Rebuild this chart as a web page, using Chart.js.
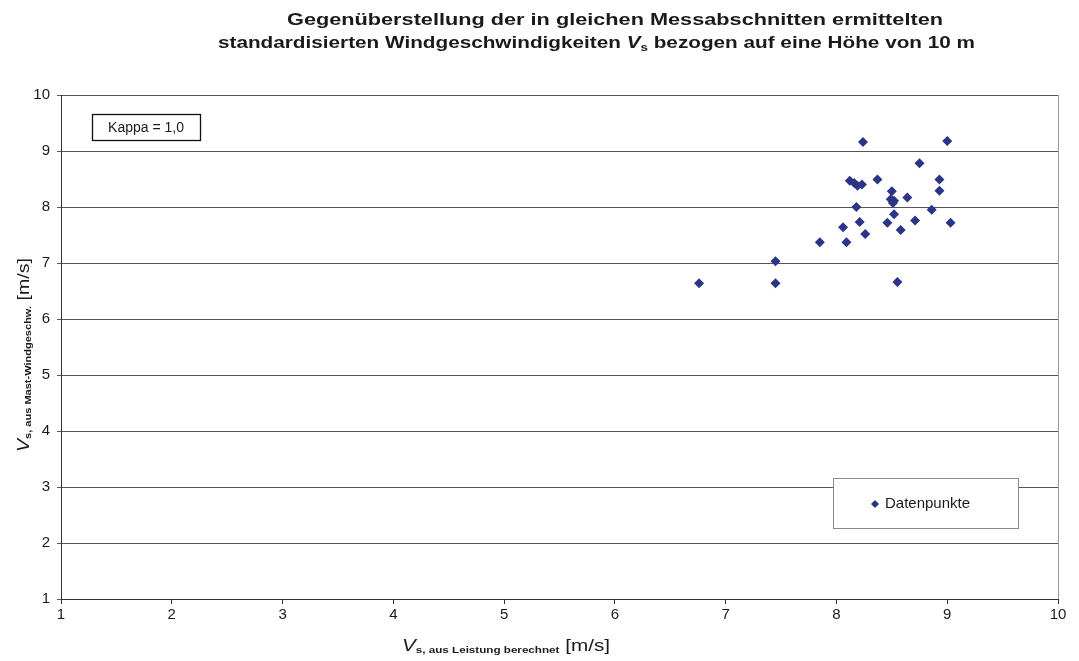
<!DOCTYPE html>
<html>
<head>
<meta charset="utf-8">
<script src="https://cdn.jsdelivr.net/npm/chart.js@4/dist/chart.umd.min.js"></script>
<style>
  html, body { margin: 0; padding: 0; background: #fff; }
  #chart { display: block; }
</style>
</head>
<body>
<canvas id="chart" width="1079" height="661"></canvas>
<script>
// values (x = from power, y = from mast wind speed)
var xValues = [8.24, 9.00, 8.75, 8.12, 8.16, 8.19, 8.23, 8.37, 8.93, 8.93, 8.50, 8.49, 8.52, 8.51, 8.64, 8.18,
               8.86, 8.52, 8.21, 8.46, 8.71, 9.03, 8.06, 8.58, 8.26, 7.85, 8.09, 7.45, 6.76, 7.45, 8.55];
var yValues = [9.16, 9.18, 8.78, 8.47, 8.43, 8.38, 8.40, 8.49, 8.49, 8.29, 8.28, 8.14, 8.11, 8.07, 8.17, 8.00,
               7.95, 7.87, 7.73, 7.72, 7.76, 7.72, 7.64, 7.59, 7.52, 7.37, 7.37, 7.03, 6.64, 6.64, 6.66];
var tickValues = [1, 2, 3, 4, 5, 6, 7, 8, 9, 10];
var seriesName = 'Datenpunkte';
var kappaText = 'Kappa = 1,0';
var titleLine1 = 'Gegenüberstellung der in gleichen Messabschnitten ermittelten';
var titleLine2a = 'standardisierten Windgeschwindigkeiten ';
var titleLine2b = ' bezogen auf eine Höhe von 10 m';
var xLabelSub = 's, aus Leistung berechnet';
var yLabelSub = 's, aus Mast-Windgeschw.';
var unitText = ' [m/s]';

var FONT = "'Liberation Sans', Arial, sans-serif";
var pointColor = '#2b3486';

// draw a row of text pieces, squeezed/stretched to a given width
function drawPieces(ctx, pieces, x, y, width) {
  var natural = 0;
  pieces.forEach(p => { ctx.font = p.font; natural += ctx.measureText(p.text).width; });
  var k = width ? width / natural : 1;
  ctx.save();
  ctx.translate(x, y);
  ctx.scale(k, 1);
  ctx.textBaseline = 'alphabetic';
  ctx.textAlign = 'left';
  var cx = 0;
  pieces.forEach(p => {
    ctx.font = p.font;
    ctx.fillText(p.text, cx, p.dy || 0);
    cx += ctx.measureText(p.text).width;
  });
  ctx.restore();
}

var extras = {
  id: 'extras',
  afterDraw(chart) {
    var ctx = chart.ctx;
    var area = chart.chartArea;
    ctx.save();
    ctx.fillStyle = '#1a1a1a';

    // title
    drawPieces(ctx, [{text: titleLine1, font: 'bold 17px ' + FONT}], 287, 25, 656);
    drawPieces(ctx, [
      {text: titleLine2a, font: 'bold 17px ' + FONT},
      {text: 'V', font: 'italic bold 17px ' + FONT},
      {text: 's', font: 'bold 11px ' + FONT, dy: 3},
      {text: titleLine2b, font: 'bold 17px ' + FONT}
    ], 218, 48, 757);

    // x axis title
    drawPieces(ctx, [
      {text: 'V', font: 'italic 16px ' + FONT},
      {text: xLabelSub, font: 'bold 9px ' + FONT, dy: 2},
      {text: unitText, font: '16px ' + FONT}
    ], 402, 651, 208);

    // y axis title
    ctx.save();
    ctx.translate(29, 452);
    ctx.rotate(-Math.PI / 2);
    drawPieces(ctx, [
      {text: 'V', font: 'italic 16px ' + FONT},
      {text: yLabelSub, font: 'bold 9px ' + FONT, dy: 2},
      {text: unitText, font: '16px ' + FONT}
    ], 0, 0, 194);
    ctx.restore();

    // right border of the plot area
    ctx.strokeStyle = '#999';
    ctx.lineWidth = 1;
    ctx.beginPath();
    ctx.moveTo(area.right + 0.5, area.top);
    ctx.lineTo(area.right + 0.5, area.bottom);
    ctx.stroke();

    // Kappa box
    ctx.fillStyle = '#fff';
    ctx.fillRect(92, 114, 108, 26);
    ctx.strokeStyle = '#111';
    ctx.lineWidth = 1.3;
    ctx.strokeRect(92.5, 114.5, 108, 26);
    ctx.fillStyle = '#1a1a1a';
    ctx.font = '14px ' + FONT;
    ctx.textAlign = 'center';
    ctx.textBaseline = 'middle';
    ctx.fillText(kappaText, 146, 128);

    // legend box
    ctx.fillStyle = '#fff';
    ctx.fillRect(833, 478, 185, 50);
    ctx.strokeStyle = '#8a8a8a';
    ctx.lineWidth = 1;
    ctx.strokeRect(833.5, 478.5, 185, 50);
    ctx.fillStyle = pointColor;
    ctx.beginPath();
    ctx.moveTo(875, 500);
    ctx.lineTo(879, 504);
    ctx.lineTo(875, 508);
    ctx.lineTo(871, 504);
    ctx.closePath();
    ctx.fill();
    ctx.fillStyle = '#1a1a1a';
    ctx.font = '15px ' + FONT;
    ctx.textAlign = 'left';
    ctx.fillText(seriesName, 885, 504);

    ctx.restore();
  }
};

var points = xValues.map((x, i) => ({x: x, y: yValues[i]}));

new Chart(document.getElementById('chart').getContext('2d'), {
  type: 'scatter',
  data: {
    datasets: [{
      label: seriesName,
      data: points,
      pointStyle: 'rectRot',
      pointRadius: 5,
      backgroundColor: pointColor,
      borderColor: pointColor,
      borderWidth: 0
    }]
  },
  options: {
    responsive: false,
    animation: false,
    devicePixelRatio: 1,
    layout: { padding: { top: 95, right: 21, left: 0, bottom: 0 } },
    plugins: {
      legend: { display: false },
      title: { display: false },
      tooltip: { enabled: false }
    },
    scales: {
      x: {
        type: 'linear',
        min: 1,
        max: 10,
        afterBuildTicks: s => { s.ticks = tickValues.map(v => ({value: v})); },
        afterFit: s => { s.height = 62; },
        ticks: { font: { family: FONT, size: 15 }, color: '#1a1a1a', padding: 2, maxRotation: 0 },
        grid: { drawOnChartArea: false, drawTicks: true, tickLength: 5, color: '#333' },
        border: { color: '#333', width: 1 }
      },
      y: {
        type: 'linear',
        min: 1,
        max: 10,
        afterBuildTicks: s => { s.ticks = tickValues.map(v => ({value: v})); },
        afterFit: s => { s.width = 61; },
        ticks: { font: { family: FONT, size: 15 }, color: '#1a1a1a', padding: 7 },
        grid: { color: '#555', tickLength: 4 },
        border: { color: '#333', width: 1 }
      }
    }
  },
  plugins: [extras]
});
</script>
</body>
</html>
